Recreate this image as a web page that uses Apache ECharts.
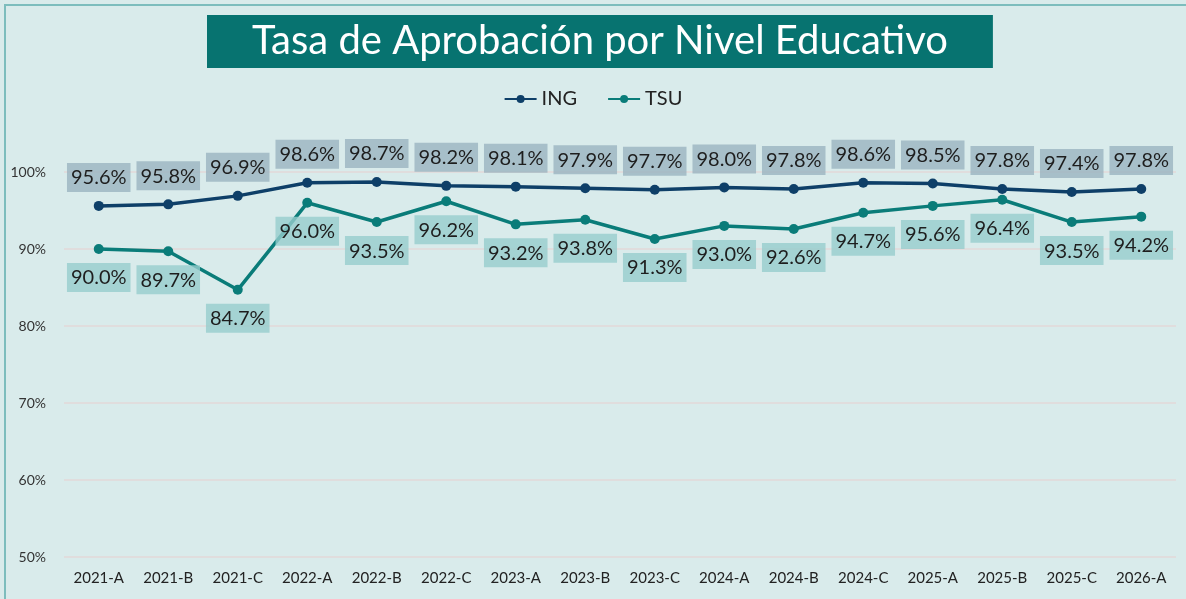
<!DOCTYPE html>
<html>
<head>
<meta charset="utf-8">
<script src="https://cdn.jsdelivr.net/npm/echarts@6/dist/echarts.min.js"></script>
<style>
  html, body { margin: 0; padding: 0; background: #ffffff; }
  #chart { width: 1186px; height: 599px; }
</style>
</head>
<body>
<div id="chart"></div>
<script>
// periodos
const categories = ['2021-A', '2021-B', '2021-C', '2022-A', '2022-B', '2022-C', '2023-A', '2023-B',
  '2023-C', '2024-A', '2024-B', '2024-C', '2025-A', '2025-B', '2025-C', '2026-A'];
// tasa de aprobación (%)
const ingValues = [95.6, 95.8, 96.9, 98.6, 98.7, 98.2, 98.1, 97.9, 97.7, 98.0, 97.8, 98.6, 98.5, 97.8, 97.4, 97.8];
const tsuValues = [90.0, 89.7, 84.7, 96.0, 93.5, 96.2, 93.2, 93.8, 91.3, 93.0, 92.6, 94.7, 95.6, 96.4, 93.5, 94.2];
const titleText = 'Tasa de Aprobación por Nivel Educativo';

const font = 'Lato, "Noto Sans", sans-serif';
const chart = echarts.init(document.getElementById('chart'));

const labelStyle = (bg, pos) => ({
  show: true,
  position: pos,
  distance: 9,
  formatter: (p) => p.value.toFixed(1) + '%',
  fontFamily: font,
  fontSize: 20,
  color: '#1e1e1e',
  backgroundColor: bg,
  padding: [5, 4, 4, 4]
});

chart.setOption({
  backgroundColor: '#d9ebeb',
  textStyle: { fontFamily: font },
  graphic: [
    {
      type: 'rect',
      shape: { x: 5, y: 5, width: 1200, height: 620 },
      style: { fill: 'none', stroke: '#7dbdbd', lineWidth: 2 },
      silent: true
    }
  ],
  title: {
    text: titleText,
    left: 207,
    top: 15,
    backgroundColor: '#077370',
    padding: [6, 45, 7, 45],
    textStyle: { color: '#ffffff', fontSize: 40, fontWeight: 'normal', fontFamily: font }
  },
  legend: {
    top: 84,
    left: 'center',
    itemWidth: 32,
    itemHeight: 10,
    itemGap: 30,
    textStyle: { fontSize: 20, color: '#222', fontFamily: font },
    data: ['ING', 'TSU']
  },
  grid: { left: 64, right: 10, top: 172, bottom: 42 },
  xAxis: {
    type: 'category',
    data: categories,
    axisLine: { show: false },
    axisTick: { show: false },
    axisLabel: { fontSize: 15, color: '#222', margin: 14 }
  },
  yAxis: {
    type: 'value',
    min: 50,
    max: 100,
    interval: 10,
    axisLabel: { formatter: '{value}%', fontSize: 14, color: '#333', margin: 18 },
    splitLine: { lineStyle: { color: '#e2d8d8', width: 1.5 } }
  },
  series: [
    {
      name: 'ING',
      type: 'line',
      data: ingValues,
      symbol: 'circle',
      symbolSize: 10,
      itemStyle: { color: '#0e3f68' },
      lineStyle: { width: 3.5, color: '#0e3f68' },
      label: labelStyle('rgba(150,176,190,0.75)', 'top'),
      z: 3
    },
    {
      name: 'TSU',
      type: 'line',
      data: tsuValues,
      symbol: 'circle',
      symbolSize: 10,
      itemStyle: { color: '#0a7c79' },
      lineStyle: { width: 3.5, color: '#0a7c79' },
      label: labelStyle('rgba(150,205,205,0.8)', 'bottom'),
      z: 2
    }
  ]
});
</script>
</body>
</html>
